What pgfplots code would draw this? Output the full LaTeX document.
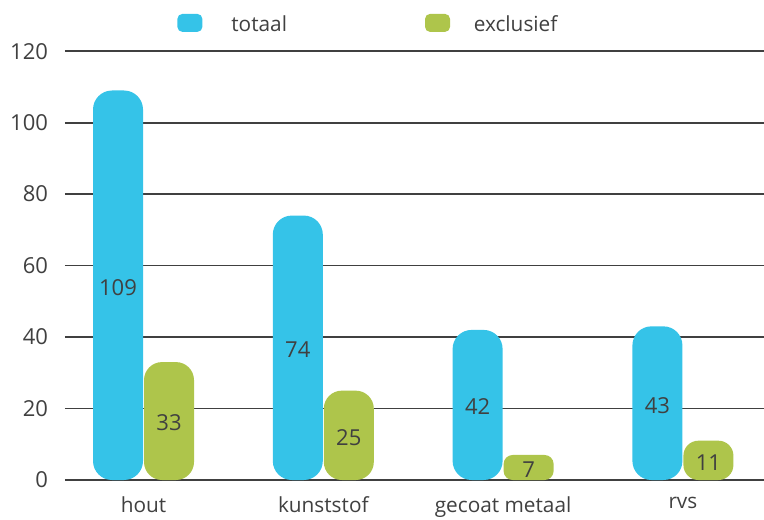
\documentclass[border=0pt]{standalone}
\usepackage{pgfplots}
\pgfplotsset{compat=1.18}
\usepackage{fontspec}
\setmainfont{Open Sans}

\definecolor{barblue}{HTML}{35C3E8}
\definecolor{bargreen}{HTML}{AEC54B}
\definecolor{txt}{HTML}{404040}

\newcommand{\chartfont}{\fontsize{11}{13}\selectfont}
\newcommand{\labelfont}{\fontsize{10.4}{12}\selectfont}

\begin{document}
\begin{tikzpicture}
\begin{axis}[
  scale only axis,
  width=349.5pt, height=214.4pt,
  xmin=-0.4366, xmax=3.451,
  ymin=0, ymax=120,
  ytick={0,20,...,120},
  xtick={0,1,2,3},
  xticklabels={hout,kunststof,gecoat metaal,rvs},
  axis line style={draw=none},
  major tick length=0pt,
  ymajorgrids,
  grid style={txt, line width=0.9pt},
  /pgf/number format/assume math mode=true,
  ticklabel style={font=\chartfont, text=txt},
  yticklabel style={xshift=-5pt},
  xticklabel style={yshift=-5pt, font=\labelfont},
  clip=false,
  bar width=25pt,
  visualization depends on={rawy \as \rawy},
  nodes near coords,
  every node near coord/.append style={font=\chartfont, text=txt,
    anchor=center, yshift={-\rawy*0.8933pt-1pt}},
  legend columns=2,
  legend style={draw=none, fill=none, inner sep=0pt,
    at={(rel axis cs:0.1602,1.066)}, anchor=west,
    font=\labelfont, text=txt,
    nodes={inner sep=0pt, text depth=0pt},
    /tikz/every even column/.append style={column sep=69pt}},
]
\addplot[ybar, bar shift=-12.75pt, fill=barblue, draw=none, rounded corners=9.5pt,
  every node near coord/.append style={xshift=-12.75pt},
  legend image code/.code={\fill[rounded corners=2.5pt] (0pt,-4pt) rectangle (12.5pt,5pt);
    \path[draw=none, fill=none] (0pt,0pt) -- (27pt,0pt);}]
  coordinates {(0,109) (1,74) (2,42) (3,43)};
\addlegendentry{totaal}
\addplot[ybar, bar shift=12.75pt, fill=bargreen, draw=none, rounded corners=9pt,
  every node near coord/.append style={xshift=12.75pt},
  legend image code/.code={\fill[rounded corners=2.5pt] (0pt,-4pt) rectangle (12.5pt,5pt);
    \path[draw=none, fill=none] (0pt,0pt) -- (24.4pt,0pt);}]
  coordinates {(0,33) (1,25)};
\addlegendentry{exclusief}
\addplot[ybar, bar shift=12.75pt, fill=bargreen, draw=none, rounded corners=4.5pt, forget plot,
  every node near coord/.append style={xshift=12.75pt}]
  coordinates {(2,7)};
\addplot[ybar, bar shift=12.75pt, fill=bargreen, draw=none, rounded corners=7.5pt, forget plot,
  every node near coord/.append style={xshift=12.75pt}]
  coordinates {(3,11)};
\coordinate (bb1) at (rel axis cs:-0.09299,-0.0910);
\coordinate (bb2) at (rel axis cs:1,1.1194);
\end{axis}
\pgfresetboundingbox
\path[use as bounding box] (bb1) rectangle (bb2);
\end{tikzpicture}
\end{document}
